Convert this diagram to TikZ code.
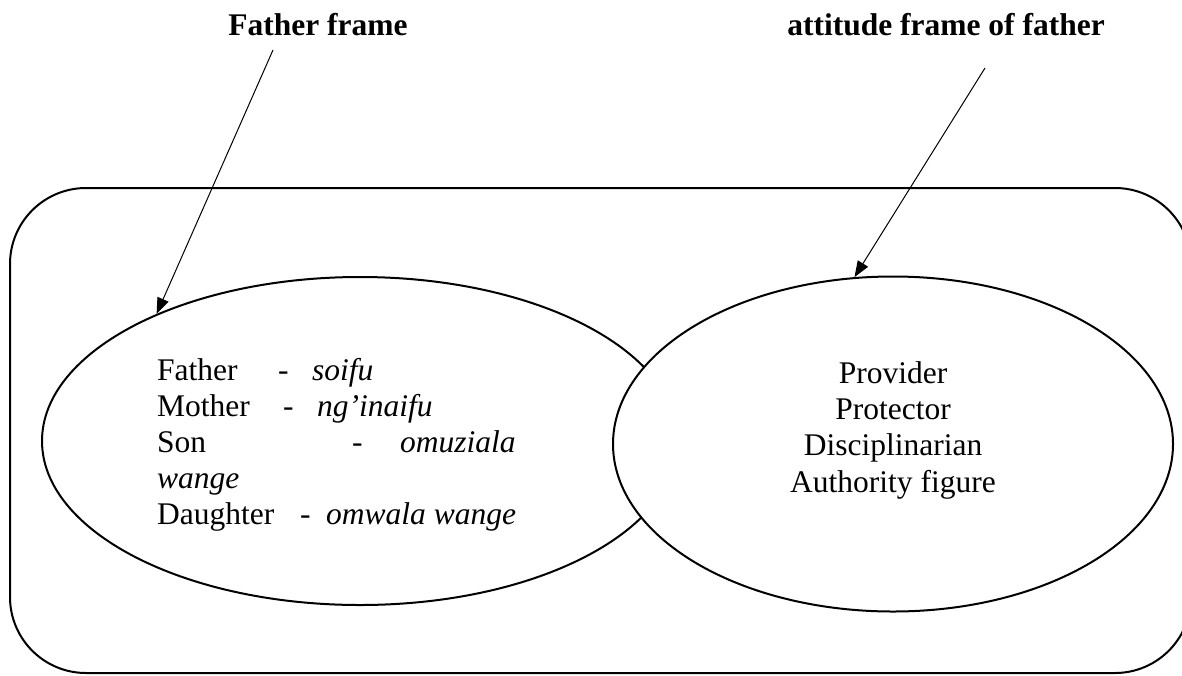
\documentclass[tikz,border=0pt]{standalone}
\usepackage{fontspec}
\setmainfont{Liberation Serif}
\usetikzlibrary{arrows.meta,shapes.geometric}
\begin{document}
\begin{tikzpicture}[x=1pt,y=-1pt,
  outline/.style={line width=2pt},
  frame/.style={ellipse, draw, line width=2pt, fill=white, inner sep=0pt},
  label/.style={inner sep=0pt, font=\fontsize{31.5}{36}\selectfont},
  title/.style={inner sep=0pt, font=\fontsize{31.5}{36}\selectfont\bfseries},
  pointer/.style={line width=1pt, -{Triangle[length=16pt,width=12pt]}}]

\useasboundingbox (0,0) rectangle (1182,675);

% outer frame
\draw[outline, rounded corners=76pt] (10,188) rectangle (1191,673);

% the two overlapping frames (the right one lies on top)
\node[frame, minimum width=636pt, minimum height=328pt] (kin) at (360,441) {};
\node[frame, minimum width=560pt, minimum height=335pt] (role) at (893,444) {};

% kinship terms
\node[label, anchor=base west] (l1) at (157,380)
  {\makebox[121pt][l]{Father}\makebox[34pt][l]{-}\textit{soifu}};
\node[label, anchor=base west] (l2) at (157,416)
  {\makebox[126pt][l]{Mother}\makebox[34pt][l]{-}\textit{ng’inaifu}};
\node[label, anchor=base west] (l3) at (157,452)
  {\makebox[195pt][l]{Son}\makebox[48pt][l]{-}\textit{omuziala}};
\node[label, anchor=base west] (l4) at (157,488) {\textit{wange}};
\node[label, anchor=base west] (l5) at (157,524)
  {\makebox[143pt][l]{Daughter}\makebox[26pt][l]{-}\textit{omwala wange}};

% attitudes
\node[label, anchor=base] (p1) at (893,383) {Provider};
\node[label, anchor=base] (p2) at (893,419) {Protector};
\node[label, anchor=base] (p3) at (893,455) {Disciplinarian};
\node[label, anchor=base] (p4) at (893,492) {Authority figure};

% headings and pointers
\node[title, anchor=base] (t1) at (318,35) {Father frame};
\node[title, anchor=base east] (t2) at (1105,35) {attitude frame of father};

\coordinate (s1) at (273,50);
\coordinate (s2) at (985,68);
\draw[pointer] (s1) -- (kin.148);
\draw[pointer] (s2) -- (role.103);
\end{tikzpicture}
\end{document}
